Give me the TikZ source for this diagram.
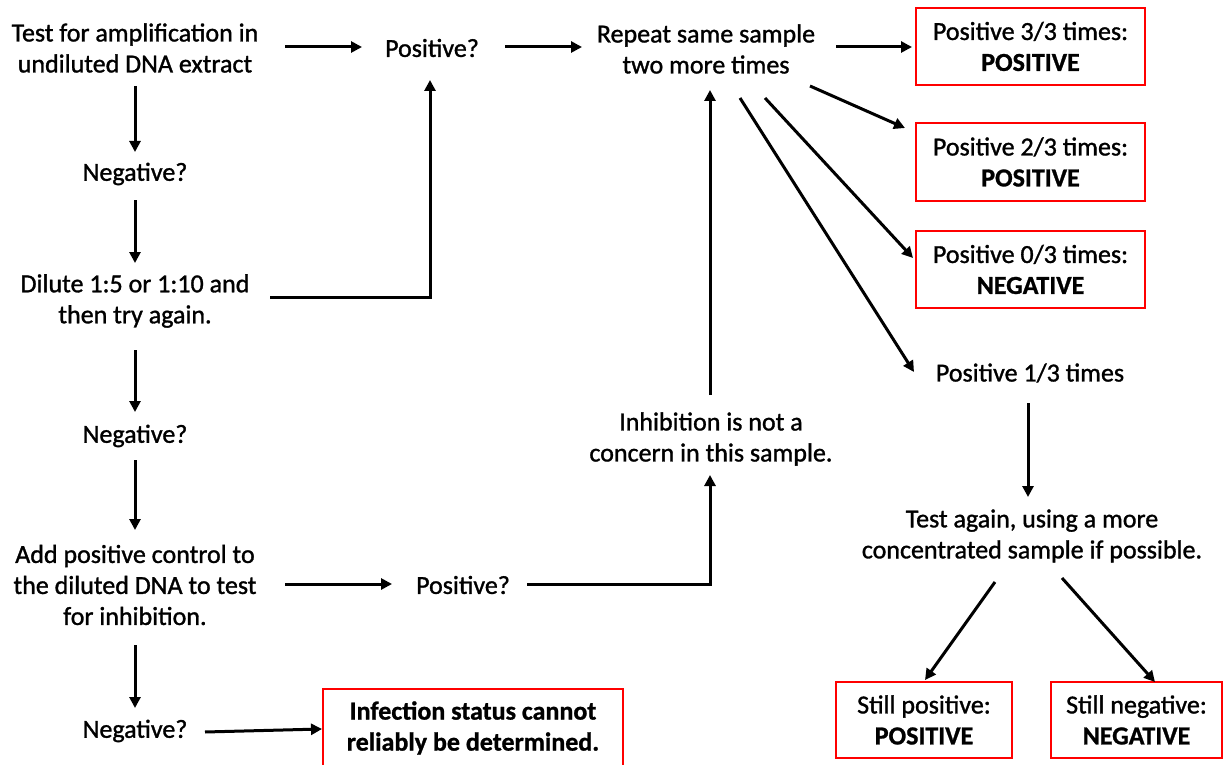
\documentclass[tikz,border=0pt]{standalone}
\usepackage{fontspec}
\setmainfont{Carlito}[FakeBold=1.2,BoldFeatures={FakeBold=1.0}]
\usetikzlibrary{arrows.meta}
\begin{document}
\begin{tikzpicture}[x=1pt,y=-1pt,
  txt/.style={align=center,font=\fontsize{26}{31}\selectfont,inner sep=0pt},
  res/.style={txt,draw=red,line width=2pt,minimum width=229pt,minimum height=77pt},
  arr/.style={line width=3pt,-{Triangle[length=11pt,width=11pt]}}]
\useasboundingbox (0,0) rectangle (1224,765);
% left column
\node[txt] (t1) at (135,48) {Test for amplification in\\undiluted DNA extract};
\node[txt] (neg1) at (135,174) {Negative?};
\node[txt] (dil) at (135,301) {Dilute 1:5 or 1:10 and\\then try again.};
\node[txt] (neg2) at (135,436) {Negative?};
\node[txt] (add) at (135,585) {Add positive control to\\the diluted DNA to test\\for inhibition.};
\node[txt] (neg3) at (135,731) {Negative?};
% middle
\node[txt] (pos1) at (432,48) {Positive?};
\node[txt] (pos2) at (463,585) {Positive?};
\node[txt] (rep) at (706,49) {Repeat same sample\\two more times};
\node[txt] (inh) at (711,439) {Inhibition is not a\\concern in this sample.};
\node[txt,draw=red,line width=2pt,minimum width=300pt,minimum height=78pt] (inf) at (473,728) {\textbf{Infection status cannot}\\\textbf{reliably be determined.}};
% right
\node[res] (b33) at (1030.5,46.5) {Positive 3/3 times:\\\textbf{POSITIVE}};
\node[res] (b23) at (1030.5,162) {Positive 2/3 times:\\\textbf{POSITIVE}};
\node[res] (b03) at (1030.5,269.5) {Positive 0/3 times:\\\textbf{NEGATIVE}};
\node[txt] (p13) at (1030,373) {Positive 1/3 times};
\node[txt] (ta) at (1032,536) {Test again, using a more\\concentrated sample if possible.};
\node[res,minimum width=176pt,minimum height=76pt] (sp) at (924,720) {Still positive:\\\textbf{POSITIVE}};
\node[res,minimum width=171pt,minimum height=76pt] (sn) at (1136.5,720) {Still negative:\\\textbf{NEGATIVE}};
% connectors
\draw[arr] ([shift={(150,-1)}]t1.center) -- ([shift={(-70,-1)}]pos1.center);
\draw[arr] ([shift={(73,-1)}]pos1.center) -- ([shift={(-124,-2)}]rep.center);
\draw[arr] ([shift={(130,-2)}]rep.center) -- ([shift={(-118.5,0.5)}]b33.center);
\draw[arr] ([shift={(104,37)}]rep.center) -- ([shift={(-10,-34)}]b23.west);
\draw[arr] ([shift={(59,49)}]rep.center) -- ([shift={(-2,-11.5)}]b03.west);
\draw[arr] ([shift={(34,49)}]rep.center) -- ([shift={(-116,-1)}]p13.center);
\draw[arr] ([shift={(0,38)}]t1.center) -- ([shift={(0,-22)}]neg1.center);
\draw[arr] ([shift={(0,26)}]neg1.center) -- ([shift={(0,-38)}]dil.center);
\draw[arr] ([shift={(135,-4)}]dil.center) -| ([shift={(-2,32)}]pos1.center);
\draw[arr] ([shift={(0,49)}]dil.center) -- ([shift={(0,-24)}]neg2.center);
\draw[arr] ([shift={(0,24)}]neg2.center) -- ([shift={(0,-55)}]add.center);
\draw[arr] ([shift={(150,-1)}]add.center) -- ([shift={(-71,-1)}]pos2.center);
\draw[arr] ([shift={(64,-1)}]pos2.center) -| ([shift={(-1,36)}]inh.center);
\draw[arr] ([shift={(-1,-44)}]inh.center) -- ([shift={(4,41)}]rep.center);
\draw[arr] ([shift={(0,60)}]add.center) -- ([shift={(0,-23)}]neg3.center);
\draw[arr] ([shift={(70,1)}]neg3.center) -- ([shift={(-151,1)}]inf.center);
\draw[arr] ([shift={(-2,30)}]p13.center) -- ([shift={(-4,-39)}]ta.center);
\draw[arr] ([shift={(-37,46)}]ta.center) -- ([shift={(1,-40)}]sp.center);
\draw[arr] ([shift={(30,42)}]ta.center) -- ([shift={(18.5,-38)}]sn.center);
\end{tikzpicture}
\end{document}
